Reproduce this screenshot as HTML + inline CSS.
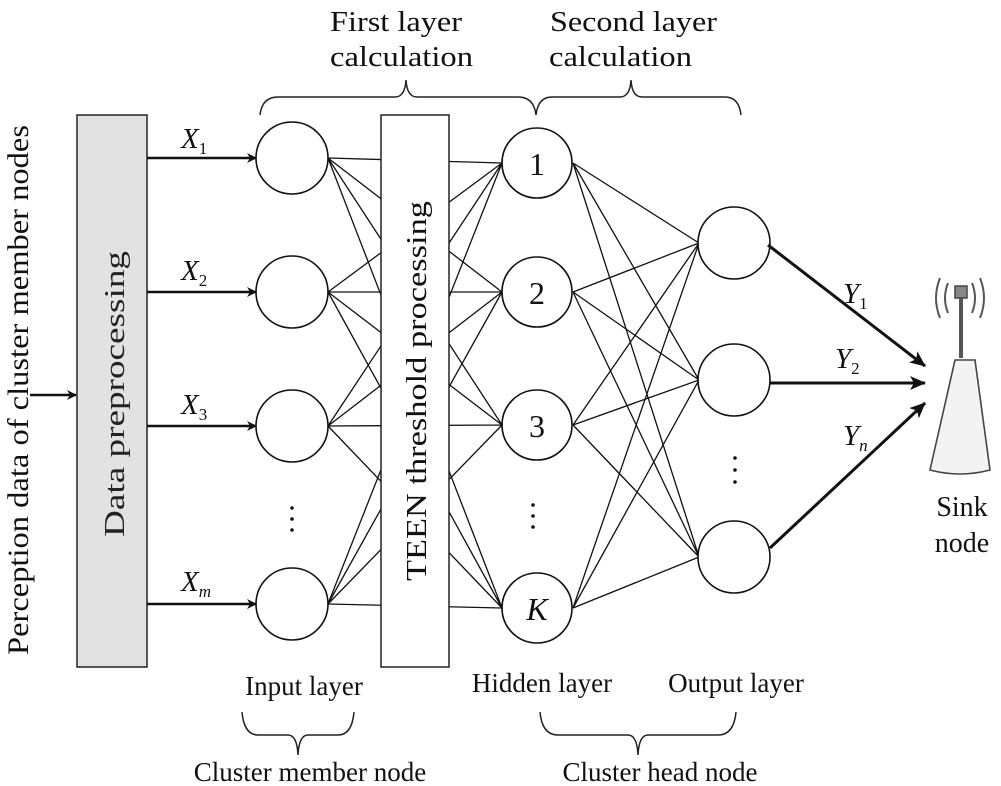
<!DOCTYPE html>
<html><head><meta charset="utf-8"><style>
html,body{margin:0;padding:0;background:#fff;}
svg{display:block;font-family:"Liberation Serif",serif;}
</style></head><body>
<svg width="1001" height="786" viewBox="0 0 1001 786" xmlns="http://www.w3.org/2000/svg">
<defs>
<marker id="ah" markerWidth="10" markerHeight="10" refX="9" refY="5" orient="auto" markerUnits="userSpaceOnUse">
<path d="M0,0 L10,5 L0,10 L3,5 Z" fill="#111"/></marker>
<marker id="ah2" markerWidth="16" markerHeight="14" refX="15" refY="7" orient="auto" markerUnits="userSpaceOnUse">
<path d="M0,0 L16,7 L0,14 L4,7 Z" fill="#111"/></marker>
</defs>
<g stroke="#111" stroke-width="1.3" fill="none">
<path d="M328,158 L502,163 M328,158 L502,292 M328,158 L502,425 M328,158 L502,608
M328,292 L502,163 M328,292 L502,292 M328,292 L502,425 M328,292 L502,608
M328,426 L502,163 M328,426 L502,292 M328,426 L502,425 M328,426 L502,608
M328,604 L502,163 M328,604 L502,292 M328,604 L502,425 M328,604 L502,608"/>
<path d="M573,163 L699,243 M573,163 L699,380 M573,163 L699,557
M573,292 L699,243 M573,292 L699,380 M573,292 L699,557
M573,425 L699,243 M573,425 L699,380 M573,425 L699,557
M573,608 L699,243 M573,608 L699,380 M573,608 L699,557"/>
</g>
<rect x="77" y="115" width="70" height="552" fill="#e2e2e2" stroke="#222" stroke-width="1.5"/>
<rect x="381" y="115" width="68" height="552" fill="#fff" stroke="#222" stroke-width="1.5"/>
<text transform="translate(124,394) rotate(-90)" text-anchor="middle" font-size="28" fill="#222" textLength="286" lengthAdjust="spacingAndGlyphs">Data preprocessing</text>
<text transform="translate(426,391) rotate(-90)" text-anchor="middle" font-size="28" fill="#111" textLength="380" lengthAdjust="spacingAndGlyphs">TEEN threshold processing</text>
<text transform="translate(28,390) rotate(-90)" text-anchor="middle" font-size="30" fill="#111" textLength="530" lengthAdjust="spacingAndGlyphs">Perception data of cluster member nodes</text>
<g stroke="#111" stroke-width="1.6" fill="#fff">
<circle cx="292" cy="158" r="36"/><circle cx="292" cy="292" r="36"/><circle cx="292" cy="426" r="36"/><circle cx="292" cy="604" r="36"/>
<circle cx="537" cy="163" r="35"/><circle cx="537" cy="292" r="35"/><circle cx="537" cy="425" r="35"/><circle cx="537" cy="608" r="35"/>
<circle cx="734" cy="243" r="36"/><circle cx="734" cy="380" r="36"/><circle cx="734" cy="557" r="36"/>
</g>
<g font-size="32" text-anchor="middle" fill="#111">
<text x="537" y="175">1</text><text x="537" y="304">2</text><text x="537" y="437">3</text><text x="537" y="620" font-style="italic">K</text>
</g>
<g fill="#111">
<circle cx="292" cy="508" r="1.8"/><circle cx="292" cy="519" r="1.8"/><circle cx="292" cy="530" r="1.8"/>
<circle cx="533" cy="505" r="1.8"/><circle cx="533" cy="516" r="1.8"/><circle cx="533" cy="527" r="1.8"/>
<circle cx="735" cy="458" r="1.8"/><circle cx="735" cy="470" r="1.8"/><circle cx="735" cy="482" r="1.8"/>
</g>
<g stroke="#111" stroke-width="2.5" marker-end="url(#ah)">
<line x1="30" y1="395" x2="76" y2="395"/>
<line x1="147" y1="158" x2="256" y2="158"/><line x1="147" y1="292" x2="256" y2="292"/>
<line x1="147" y1="426" x2="256" y2="426"/><line x1="147" y1="604" x2="256" y2="604"/>
</g>
<g font-size="29" font-style="italic" fill="#111">
<text x="181" y="148">X<tspan font-size="17" font-style="normal" dy="6">1</tspan></text>
<text x="181" y="280">X<tspan font-size="17" font-style="normal" dy="6">2</tspan></text>
<text x="181" y="414">X<tspan font-size="17" font-style="normal" dy="6">3</tspan></text>
<text x="181" y="591">X<tspan font-size="17" dy="6">m</tspan></text>
<text x="843" y="303">Y<tspan font-size="17" font-style="normal" dy="6">1</tspan></text>
<text x="835" y="368">Y<tspan font-size="17" font-style="normal" dy="6">2</tspan></text>
<text x="843" y="445">Y<tspan font-size="17" dy="6">n</tspan></text>
</g>
<g stroke="#111" stroke-width="3" marker-end="url(#ah2)">
<line x1="768" y1="245" x2="925" y2="366"/>
<line x1="770" y1="383" x2="925" y2="383"/>
<line x1="770" y1="548" x2="925" y2="403"/>
</g>
<g stroke="#555" fill="none" stroke-width="2">
<path d="M948,283 Q942,298 948,313"/><path d="M940,278 Q932,298 940,318"/>
<path d="M972,283 Q978,298 972,313"/><path d="M980,278 Q988,298 980,318"/>
</g>
<rect x="955" y="286" width="12" height="12" fill="#888" stroke="#444" stroke-width="1.5"/>
<line x1="961" y1="298" x2="961" y2="358" stroke="#555" stroke-width="4"/>
<path d="M955,360 L975,360 L990,470 Q960,478 930,470 Z" fill="#f3f3f3" stroke="#444" stroke-width="1.6"/>
<text x="962" y="516" font-size="28" text-anchor="middle" fill="#111">Sink</text>
<text x="962" y="552" font-size="28" text-anchor="middle" fill="#111">node</text>
<g stroke="#222" stroke-width="1.5" fill="none">
<path d="M260,115 Q262,97 278,97 L395,97 Q405,97 406,80 Q407,97 417,97 L518,97 Q534,97 536,115"/>
<path d="M536,115 Q538,97 552,97 L620,97 Q630,97 631,80 Q632,97 642,97 L725,97 Q739,97 741,115"/>
<path d="M242,712 Q244,735 258,735 L288,735 Q297,735 298,755 Q299,735 308,735 L338,735 Q352,735 354,712"/>
<path d="M540,712 Q542,735 558,735 L628,735 Q637,735 638,755 Q639,735 648,735 L718,735 Q734,735 736,712"/>
</g>
<g font-size="29" fill="#111" lengthAdjust="spacingAndGlyphs">
<text x="330" y="31" textLength="132" lengthAdjust="spacingAndGlyphs">First layer</text>
<text x="330" y="66" textLength="143" lengthAdjust="spacingAndGlyphs">calculation</text>
<text x="550" y="31" textLength="167" lengthAdjust="spacingAndGlyphs">Second layer</text>
<text x="549" y="66" textLength="143" lengthAdjust="spacingAndGlyphs">calculation</text>
</g>
<g font-size="27" text-anchor="middle" fill="#111">
<text x="304" y="695">Input layer</text>
<text x="542" y="692">Hidden layer</text><text x="736" y="692">Output layer</text>
<text x="310" y="781">Cluster member node</text>
<text x="660" y="781">Cluster head node</text>
</g>
</svg>
</body></html>
